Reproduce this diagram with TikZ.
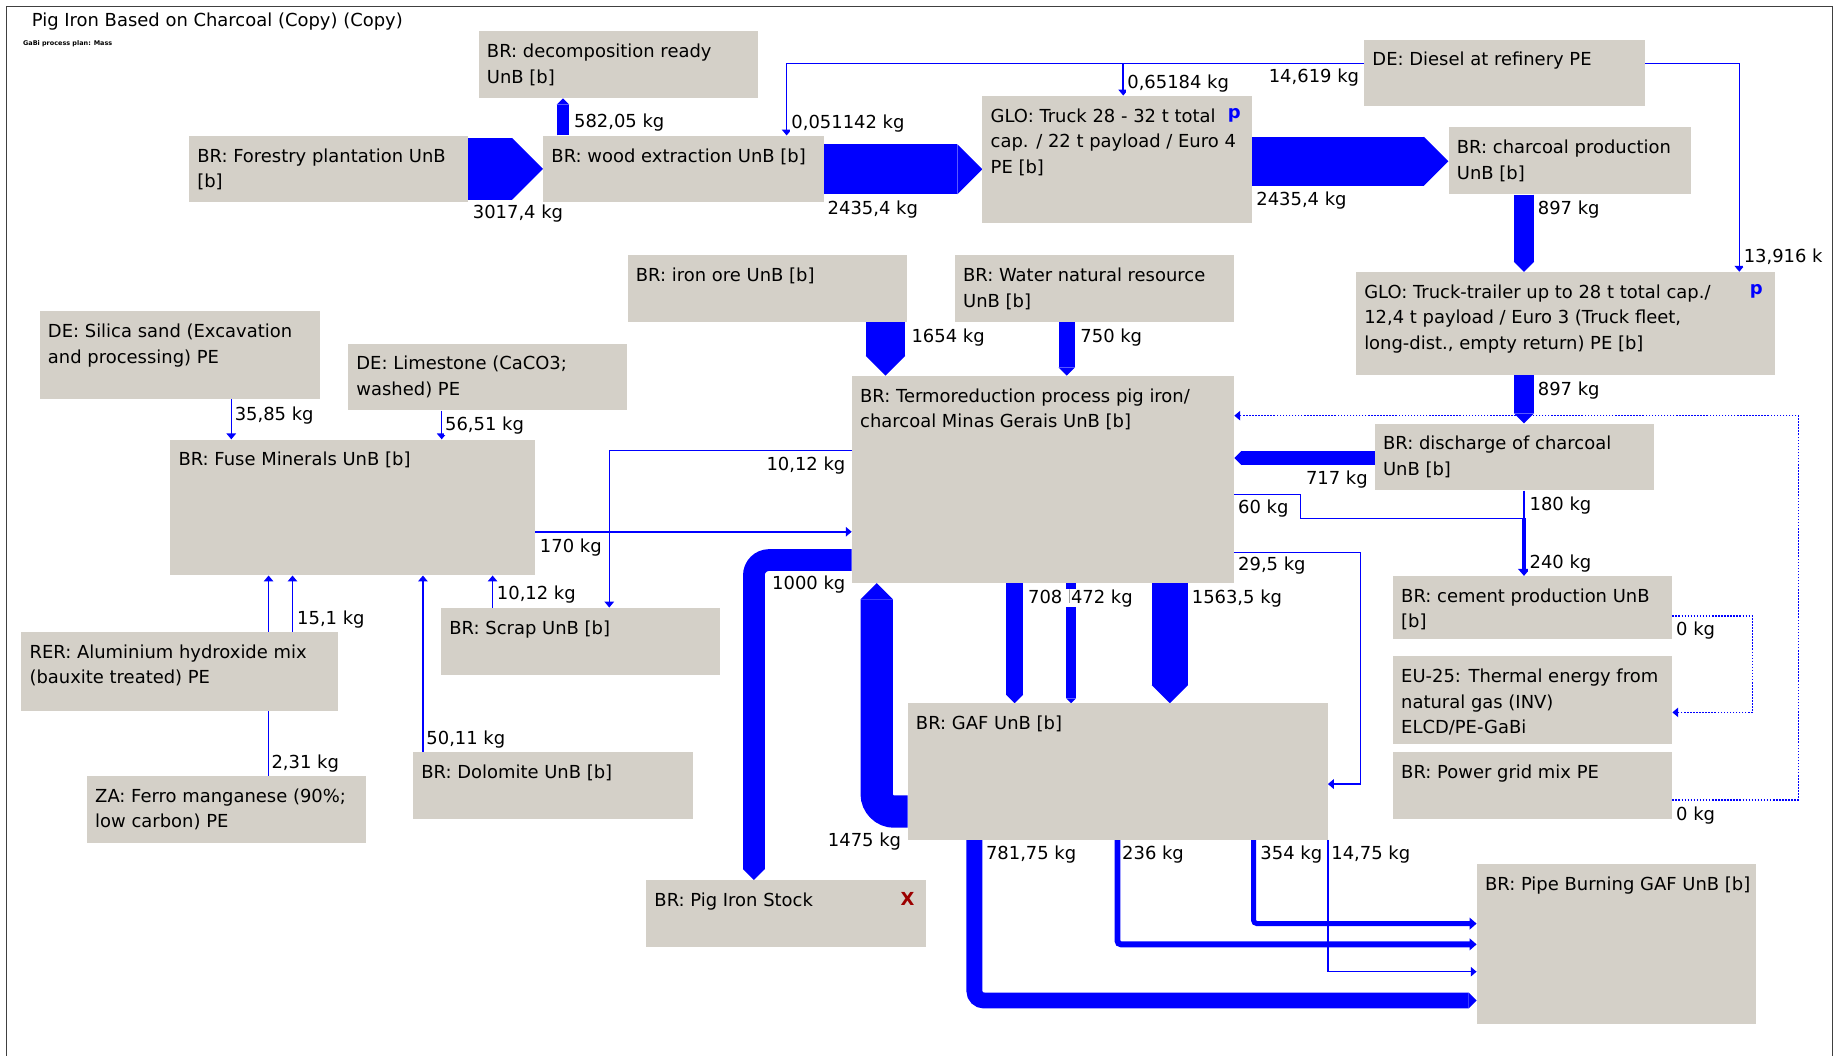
\documentclass[tikz,border=0pt]{standalone}
\usepackage{fontspec}
\setmainfont{DejaVu Sans}
\usepackage{tikz}
\usetikzlibrary{arrows.meta, calc, backgrounds}

\definecolor{boxgray}{HTML}{D4D0C8}
\definecolor{gabiblue}{HTML}{0000FF}
\definecolor{markred}{HTML}{9C0000}
\definecolor{framegray}{HTML}{404040}

\newcommand{\gabifont}{\fontsize{15.3}{21.8}\selectfont}

\tikzset{
  box/.style n args={3}{fill=boxgray, inner sep=0pt, anchor=north west,
                        minimum width=#1, minimum height=#2,
                        label={[boxtext]north west:{#3}}},
  boxtext/.style={anchor=north west, align=left, inner sep=0pt, xshift=7pt, yshift=-10.8pt, font=\gabifont},
  flow/.style={draw=gabiblue, line width=#1, -{Triangle[length=0pt .5, width=0pt 1, line width=0pt]}},
  feed/.style={draw=gabiblue, line width=1.3pt, -{Triangle[length=5pt, width=8pt]}},
  feedline/.style={draw=gabiblue, line width=1.3pt},
  midfeed/.style={draw=gabiblue, line width=#1, rounded corners=3pt, -{Triangle[length=6pt, width=10pt]}},
  dotfeed/.style={feed, dash pattern=on 1.3pt off 1.3pt},
  kg/.style={font=\gabifont, fill=white, inner xsep=1pt, inner ysep=0.5pt},
  flag/.style={font=\gabifont\bfseries, inner sep=0pt},
}

\begin{document}
\begin{tikzpicture}[x=1pt, y=-1pt]

\useasboundingbox (0,0) rectangle (1568,900);
\begin{pgfonlayer}{background}
\fill [white] (0,0) rectangle (1568,900);
\end{pgfonlayer}

\draw [framegray, line width=1.3pt] (5.5,900) |- (1562.5,5.5) -- (1562.5,900);

\node [anchor=base west, font=\gabifont, inner sep=0pt                      ] (title) at (27,22.7) {Pig Iron Based on Charcoal (Copy) (Copy)};
\node [anchor=west, font=\fontsize{5.5}{6}\selectfont\bfseries, inner sep=0pt] (plan)  at (19.5,37) {GaBi process plan: Mass};

% processes
\node [box={238}{57}{BR: decomposition ready\\UnB [b]}                                   ] (decomp)       at (408,26.5)   {};
\node [box={237.5}{56.5}{BR: Forestry plantation UnB\\{}[b]}                              ] (forestry)     at (161,115.5)  {};
\node [box={239}{56.5}{BR: wood extraction UnB [b]}                                       ] (wood)         at (463,115.5)  {};
\node [box={230}{108.5}{GLO: Truck 28 - 32 t total\\cap. / 22 t payload / Euro 4\\PE [b]}] (truck1)       at (837.5,81.5) {};
\node [box={239}{57}{DE: Diesel at refinery PE}                                           ] (diesel)       at (1163,33.5)  {};
\node [box={207}{57}{BR: charcoal production\\UnB [b]}                                    ] (charcoal)     at (1235,108.5) {};
\node [box={238}{57}{BR: iron ore UnB [b]}                                                ] (ironore)      at (535,217.5)  {};
\node [box={238}{57}{BR: Water natural resource\\UnB [b]}                                 ] (water)        at (814,217.5)  {};
\node [box={357}{88}{GLO: Truck-trailer up to 28 t total cap./\\12,4 t payload / Euro 3 (Truck fleet,\\long-dist., empty return) PE [b]}] (trucktrailer) at (1156,231.7) {};
\node [box={238.7}{75}{DE: Silica sand (Excavation\\and processing) PE}                   ] (silica)       at (33.7,265.2) {};
\node [box={238}{57}{DE: Limestone (CaCO3;\\washed) PE}                                   ] (limestone)    at (296.7,292.7){};
\node [box={311}{115.7}{BR: Fuse Minerals UnB [b]}                                        ] (fuse)         at (145,374.6)  {};
\node [box={325.8}{176.5}{BR: Termoreduction process pig iron/\\charcoal Minas Gerais UnB [b]}] (termo)    at (726.2,320.3){};
\node [box={238}{57}{BR: discharge of charcoal\\UnB [b]}                                  ] (discharge)    at (1172,361)   {};
\node [box={238}{54}{BR: cement production UnB\\{}[b]}                                    ] (cement)       at (1187.5,491) {};
\node [box={238}{74.4}{EU-25: Thermal energy from\\natural gas (INV)\\ELCD/PE-GaBi}       ] (thermal)      at (1187.5,559.4){};
\node [box={238}{57}{BR: Power grid mix PE}                                               ] (power)        at (1187.5,641) {};
\node [box={237.5}{57}{BR: Scrap UnB [b]}                                                 ] (scrap)        at (376,518)    {};
\node [box={270}{67.6}{RER: Aluminium hydroxide mix\\(bauxite treated) PE}                ] (aluminium)    at (18,538.6)   {};
\node [box={238}{57}{ZA: Ferro manganese (90\%;\\low carbon) PE}                          ] (ferro)        at (74,661.4)   {};
\node [box={238.5}{57}{BR: Dolomite UnB [b]}                                              ] (dolomite)     at (352,641)    {};
\node [box={358}{116}{BR: GAF UnB [b]}                                                    ] (gaf)          at (773.8,599.6){};
\node [box={238.8}{57}{BR: Pig Iron Stock}                                                ] (pigstock)     at (550.8,750.3){};
\node [box={238}{135.8}{BR: Pipe Burning GAF UnB [b]}                                     ] (pipe)         at (1259,736.7) {};

\node [flag, text=gabiblue] (truck1p)  at ($(truck1.north east)+(-15.5,17)$)       {p};
\node [flag, text=gabiblue] (trailerp) at ($(trucktrailer.north east)+(-16,17)$)   {p};
\node [flag, text=markred ] (stockx)   at ($(pigstock.north east)+(-16.2,16.5)$)   {X};

% flows
\begin{pgfonlayer}{background}
\path [draw, dotfeed] ($(power.north east)+(0,41)$) -- ++(107.5,0) |- ($(termo.north east)+(0,34.1)$);
\path [draw, dotfeed] ($(cement.north east)+(0,34.2)$) -- ++(68.5,0) |- ($(thermal.north east)+(0,48)$);

\path [draw, flow=52.5] (forestry.east) -- (wood.west);
\path [draw, flow=10.7] ($(wood.north west)+(17,0)$) coordinate (w1) -- (w1 |- decomp.south);
\path [draw, flow=42.6] ($(wood.north east)+(0,28.8)$) coordinate (w2) -- (w2 -| truck1.west);
\path [draw, flow=42  ] ($(truck1.north east)+(0,56)$) coordinate (w3) -- (w3 -| charcoal.west);
\path [draw, flow=17.3] ($(charcoal.south west)+(64.4,0)$) coordinate (c1) -- (c1 |- trucktrailer.north);
\path [draw, flow=17.3] ($(trucktrailer.south west)+(143.4,0)$) coordinate (c2) -- (c2 |- discharge.north);

\path [draw, feed] ($(diesel.north west)+(0,20.5)$) -| ($(wood.north west)+(207.7,0)$);
\path [draw, feed] ($(diesel.north west)+(0,20.5)$) -| ($(truck1.north west)+(120.2,0)$);
\path [draw, feed] ($(diesel.north east)+(0,20.5)$) -| ($(trucktrailer.north west)+(327,0)$);

\path [draw, flow=33.7] ($(ironore.south west)+(220,0)$) coordinate (o1) -- (o1 |- termo.north);
\path [draw, flow=14  ] ($(water.south west)+(95.6,0)$) coordinate (o2) -- (o2 |- termo.north);

\path [draw, feed] ($(silica.south west)+(163.5,0)$) coordinate (m1) -- (m1 |- fuse.north);
\path [draw, feed] ($(limestone.south west)+(79.9,0)$) coordinate (m2) -- (m2 |- fuse.north);
\path [draw, feed] ($(fuse.north east)+(0,78.8)$) coordinate (m3) -- (m3 -| termo.west);
\path [draw, feed] ($(termo.north west)+(0,64)$) -| ($(scrap.north west)+(143.5,0)$);
\path [draw, feed] ($(scrap.north west)+(44,0)$) coordinate (m4) -- (m4 |- fuse.south);
\path [draw, feed] ($(aluminium.north west)+(231.4,0)$) coordinate (m5) -- (m5 |- fuse.south);
\path [draw, feed] ($(ferro.north west)+(155,0)$) coordinate (m6) -- (m6 |- fuse.south);
\path [draw, feed] ($(dolomite.north west)+(8.6,0)$) coordinate (m7) -- (m7 |- fuse.south);

\path [draw, flow=12] ($(discharge.north west)+(0,29.5)$) coordinate (d1) -- (d1 -| termo.east);
\coordinate (merge) at ($(discharge.south west)+(127.4,23.6)$);
\path [draw, feedline] ($(termo.north east)+(0,101.2)$) -- ++(56.3,0) |- (merge);
\path [draw, feedline] (merge |- discharge.south) -- (merge);
\path [draw, midfeed=4] (merge) -- (merge |- cement.north);

\path [draw, flow=14.5] ($(termo.south west)+(138.8,0)$) coordinate (g1) -- (g1 |- gaf.north);
\path [draw, flow=8.5 ] ($(termo.south west)+(187,0)$) coordinate (g2) -- (g2 |- gaf.north);
\path [draw, flow=31  ] ($(termo.south west)+(271.3,0)$) coordinate (g3) -- (g3 |- gaf.north);
\path [draw, feed] ($(termo.north east)+(0,150.7)$) -- ++(107.4,0) |- ($(gaf.north east)+(0,68.9)$);
\path [draw, flow=27.5, rounded corners=15] ($(gaf.north west)+(0,92.4)$) -| ($(termo.south west)+(21.3,0)$);
\path [draw, flow=18.5, rounded corners=13] ($(termo.north west)+(0,157.2)$) -| ($(pigstock.north west)+(92,0)$);

\path [draw, feed] (gaf.south east) |- ($(pipe.north west)+(0,91.8)$);
\path [draw, flow=13.5, rounded corners=8] ($(gaf.south west)+(57,0)$) |- ($(pipe.north west)+(0,116.3)$);
\path [draw, midfeed=5  ] ($(gaf.south west)+(179,0)$) |- ($(pipe.north west)+(0,68.5)$);
\path [draw, midfeed=4.3] ($(gaf.south west)+(295,0)$) |- ($(pipe.north west)+(0,50.8)$);
\end{pgfonlayer}

% amounts
\node [kg, anchor=west] (q-forest)   at (402,182)     {3017,4 kg};
\node [kg, anchor=west] (q-decomp)   at (488.3,104.6) {582,05 kg};
\node [kg, anchor=west] (q-wood)     at (704.5,179)   {2435,4 kg};
\node [kg, anchor=west] (q-dwood)    at (673.6,105)   {0,051142 kg};
\node [kg, anchor=west] (q-dtruck)   at (960,71)      {0,65184 kg};
\node [kg, anchor=east] (q-diesel)   at (1160,66.2)   {14,619 kg};
\node [kg, anchor=west] (q-truck)    at (1070,171.4)  {2435,4 kg};
\node [kg, anchor=west] (q-coal1)    at (1310,178.6)  {897 kg};
\node [kg, anchor=west] (q-coal2)    at (1310,332.6)  {897 kg};
\begin{scope}
\clip (0,0) rectangle (1554,900);
\node [kg, anchor=west] (q-dtrail)   at (1485.6,220)  {13,916 kg};
\end{scope}
\node [kg, anchor=west] (q-ore)      at (776,287.6)   {1654 kg};
\node [kg, anchor=west] (q-water)    at (920,287.6)   {750 kg};
\node [kg, anchor=west] (q-silica)   at (199,354)     {35,85 kg};
\node [kg, anchor=west] (q-lime)     at (378.3,363)   {56,51 kg};
\node [kg, anchor=west] (q-fuse)     at (459.2,466.7) {170 kg};
\node [kg, anchor=east] (q-toscrap)  at (722,397)     {10,12 kg};
\node [kg, anchor=west] (q-scrap)    at (422.5,507.3) {10,12 kg};
\node [kg, anchor=west] (q-alu)      at (252.2,528)   {15,1 kg};
\node [kg, anchor=west] (q-ferro)    at (230.3,651)   {2,31 kg};
\node [kg, anchor=west] (q-dolo)     at (362.4,630.4) {50,11 kg};
\node [kg, anchor=east] (q-dis)      at (1167.4,409.3){717 kg};
\node [kg, anchor=west] (q-tocem)    at (1054.5,433.4){60 kg};
\node [kg, anchor=west] (q-discem)   at (1303,431.2)  {180 kg};
\node [kg, anchor=west] (q-cem)      at (1303,480.3)  {240 kg};
\node [kg, anchor=west] (q-cemzero)  at (1428,537.2)  {0 kg};
\node [kg, anchor=west] (q-powzero)  at (1428,695)    {0 kg};
\node [kg, anchor=west] (q-togaf)    at (1054.5,482.6){29,5 kg};
\node [kg, anchor=east] (q-stock)    at (722,498.8)   {1000 kg};
\node [kg, anchor=west] (q-gaf1)     at (875.4,510)   {708 kg};
\node [kg, anchor=west] (q-gaf2)     at (912,510)     {472 kg};
\node [kg, anchor=west] (q-gaf3)     at (1015,510)    {1563,5 kg};
\node [kg, anchor=east] (q-back)     at (769.5,717.7) {1475 kg};
\node [kg, anchor=west] (q-pipe1)    at (839.5,729)   {781,75 kg};
\node [kg, anchor=west] (q-pipe2)    at (955.6,729)   {236 kg};
\node [kg, anchor=west] (q-pipe3)    at (1073.5,729)  {354 kg};
\node [kg, anchor=west] (q-pipe4)    at (1134,729)    {14,75 kg};

\end{tikzpicture}
\end{document}
